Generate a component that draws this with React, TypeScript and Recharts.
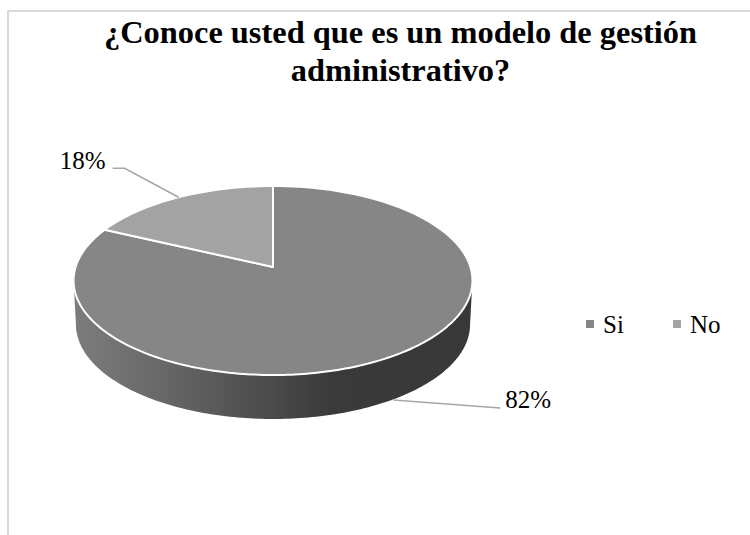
import React from 'react';
import { PieChart, Pie, Cell, Legend } from 'recharts';

const categories = ['Si', 'No'];
const shares = [82, 18];
const sliceColors = ['#868686', '#a3a3a3'];
const titleLines = ['¿Conoce usted que es un modelo de gestión', 'administrativo?'];

const data = categories.map((name, i) => ({ name, value: shares[i] }));

const FONT = '"Liberation Serif", "Times New Roman", serif';
const LEADER = '#a6a6a6';

// Tilted-disc projection: squash and perspective for the top face, plus the wall height
const SQUASH = 0.469;
const PERSPECTIVE = 1 / 7;
const DEPTH = 44;
const BOTTOM_SCALE = 0.988;

// clock is degrees clockwise from 12 o'clock
function rimPoint(cx: number, cy: number, r: number, clock: number) {
  const a = (clock * Math.PI) / 180;
  const u = Math.sin(a);
  const v = -Math.cos(a);
  const w = 1 - PERSPECTIVE * v;
  return { x: cx + (r * u) / w, y: cy + (r * SQUASH * v) / w };
}

function arcPoints(cx: number, cy: number, r: number, from: number, to: number) {
  const steps = Math.max(2, Math.ceil(Math.abs(to - from)));
  const pts = [];
  for (let i = 0; i <= steps; i++) {
    pts.push(rimPoint(cx, cy, r, from + ((to - from) * i) / steps));
  }
  return pts;
}

const toPath = (pts: { x: number; y: number }[]) =>
  pts.map((p, i) => `${i ? 'L' : 'M'}${p.x.toFixed(2)} ${p.y.toFixed(2)}`).join(' ');

// Sector drawn on the tilted disc, with its front wall underneath
function DiscSector(props: any) {
  const { cx, cy, outerRadius, startAngle, endAngle, fill } = props;
  const from = 90 - startAngle;
  const to = 90 - endAngle;
  const top = arcPoints(cx, cy, outerRadius, from, to);

  const wallFrom = Math.max(from, 98.2);
  const wallTo = Math.min(to, 261.8);
  let wall = null;
  if (wallTo > wallFrom) {
    const upper = arcPoints(cx, cy, outerRadius, wallFrom, wallTo);
    const lower = upper
      .map((p) => ({ x: cx + (p.x - cx) * BOTTOM_SCALE, y: p.y + DEPTH }))
      .reverse();
    wall = <path d={`${toPath(upper)} ${toPath(lower).replace('M', 'L')} Z`} fill="url(#wallShade)" />;
  }

  return (
    <g>
      {wall}
      <path
        d={`M${cx} ${cy} ${toPath(top).replace('M', 'L')} Z`}
        fill={fill}
        stroke="#ffffff"
        strokeWidth={2}
        strokeLinejoin="round"
      />
    </g>
  );
}

// Leader offsets from the rim: elbow and end
const leaders = [
  { elbowX: 107, elbowY: 8, endX: 107, endY: 8, textX: 5, anchor: 'start', textDy: 0 },
  { elbowX: -54, elbowY: -29, endX: -66, endY: -29, textX: -7, anchor: 'end', textDy: 1 },
];

function SliceLabel(props: any) {
  const { cx, cy, outerRadius, midAngle, value, index } = props;
  const clock = 90 - midAngle;
  const rim = rimPoint(cx, cy, outerRadius, clock);
  const front = clock > 98.2 && clock < 261.8;
  const sx = rim.x;
  const sy = front ? rim.y + DEPTH : rim.y;
  const l = leaders[index];
  const ex = sx + l.endX;
  const ey = sy + l.endY;
  return (
    <g>
      <polyline
        points={`${sx},${sy} ${sx + l.elbowX},${sy + l.elbowY} ${ex},${ey}`}
        fill="none"
        stroke={LEADER}
        strokeWidth={1.5}
      />
      <text
        x={ex + l.textX}
        y={ey + l.textDy}
        textAnchor={l.anchor as any}
        fontFamily={FONT}
        fontSize={25}
        fill="#000000"
      >
        {`${value}%`}
      </text>
    </g>
  );
}

function PieLegend() {
  return (
    <div style={{ position: 'relative', width: 160, height: 34, fontFamily: FONT, fontSize: 25, color: '#000' }}>
      {categories.map((name, i) => (
        <div key={name} style={{ position: 'absolute', left: i * 87, top: 0, height: 34 }}>
          <span
            style={{
              position: 'absolute',
              left: 0,
              top: 9,
              width: 8,
              height: 8,
              background: sliceColors[i],
            }}
          />
          <span style={{ position: 'absolute', left: 17, top: 0, lineHeight: '28px' }}>{name}</span>
        </div>
      ))}
    </div>
  );
}

export default function App() {
  return (
    <div style={{ position: 'absolute', left: 0, top: 0, width: 750, height: 535, background: '#fff', overflow: 'hidden' }}>
      <div
        style={{
          position: 'absolute',
          left: 7,
          top: 10,
          width: 760,
          height: 540,
          borderLeft: '2px solid #d9d9d9',
          borderTop: '2px solid #d9d9d9',
        }}
      />
      <PieChart
        width={750}
        height={535}
        margin={{ top: 0, right: 0, bottom: 0, left: 0 }}
        style={{ position: 'absolute', left: 0, top: 0 }}
      >
        <defs>
          <linearGradient id="wallShade" gradientUnits="userSpaceOnUse" x1={73} y1={0} x2={472} y2={0}>
            <stop offset="0" stopColor="#7c7c7c" />
            <stop offset="0.2" stopColor="#6a6a6a" />
            <stop offset="0.5" stopColor="#4a4a4a" />
            <stop offset="0.65" stopColor="#3a3a3a" />
            <stop offset="1" stopColor="#383838" />
          </linearGradient>
        </defs>
        <text fontFamily={FONT} fontSize={32.4} fontWeight="bold" fill="#000" textAnchor="middle">
          <tspan x={400.5} y={43}>{titleLines[0]}</tspan>
          <tspan x={400.5} y={81}>{titleLines[1]}</tspan>
        </text>
        <Pie
          data={data}
          dataKey="value"
          nameKey="name"
          cx={273}
          cy={267}
          outerRadius={197.4}
          startAngle={90}
          endAngle={-270}
          paddingAngle={0}
          isAnimationActive={false}
          shape={DiscSector}
          label={SliceLabel}
          labelLine={false}
        >
          {data.map((d, i) => (
            <Cell key={d.name} fill={sliceColors[i]} />
          ))}
        </Pie>
        <Legend
          content={<PieLegend />}
          wrapperStyle={{ position: 'absolute', left: 586, top: 311, width: 160, bottom: 'auto' }}
        />
      </PieChart>
    </div>
  );
}
